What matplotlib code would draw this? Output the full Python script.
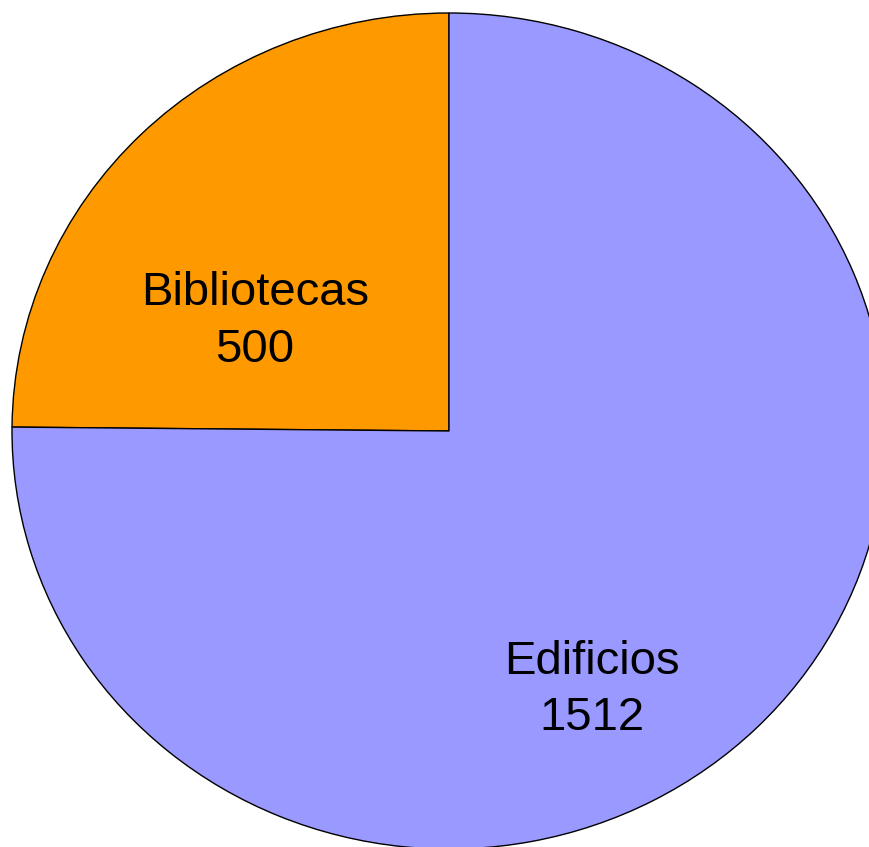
import matplotlib
matplotlib.use("Agg")
import matplotlib.pyplot as plt

categories = ["Bibliotecas", "Edificios"]
values = [500, 1512]
colors = ["#FF9900", "#9999FF"]
label_pos = [(-0.444, 0.262), (0.327, -0.62)]

fig = plt.figure(figsize=(8.70, 8.47), dpi=100)
W, H = 870, 847
cx, cy, rx, ry = 449, 431, 437, 418
ax = fig.add_axes([(cx - rx) / W, (H - cy - ry) / H, 2 * rx / W, 2 * ry / H])
ax.pie(values, colors=colors, startangle=90, counterclock=True,
       wedgeprops=dict(edgecolor="black", linewidth=1.0))
ax.set_aspect("auto")
ax.set_xlim(-1, 1)
ax.set_ylim(-1, 1)
ax.axis("off")

for cat, val, (x, y) in zip(categories, values, label_pos):
    ax.text(x, y, f"{cat}\n{val}", ha="center", va="center",
            fontsize=34, family=["Liberation Sans", "DejaVu Sans"],
            linespacing=1.36, color="black")

fig.savefig("out.png", dpi=100)
